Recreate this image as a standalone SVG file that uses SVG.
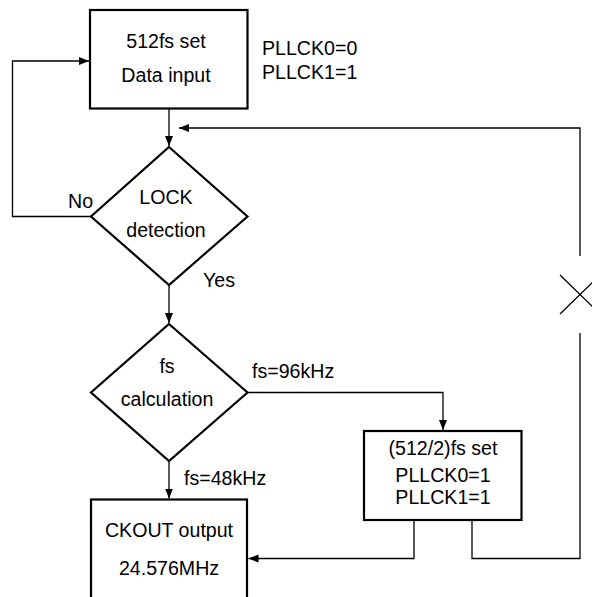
<svg xmlns="http://www.w3.org/2000/svg" width="592" height="597" viewBox="0 0 592 597">
<style>
.node{fill:#fff;stroke:#000;stroke-width:2.2}
.c{fill:none;stroke:#000;stroke-width:1.3}
text{font-family:"Liberation Sans",Arial,sans-serif;font-size:19.6px;fill:#000}
.m{text-anchor:middle}
</style>
<defs>
<marker id="ah" viewBox="0 0 10 10" refX="10" refY="5" markerWidth="10" markerHeight="10" markerUnits="userSpaceOnUse" orient="auto">
<path d="M0,1 L10,5 L0,9 Z" fill="#000"/>
</marker>
</defs>
<rect width="592" height="597" fill="#fff"/>
<g id="connectors">
<path class="c" d="M169,108.5 V146" marker-end="url(#ah)"/>
<path class="c" d="M580,256 V128 H179" marker-end="url(#ah)"/>
<path class="c" d="M91,216.5 H12.5 V61 H89" marker-end="url(#ah)"/>
<path class="c" d="M169,285 V323" marker-end="url(#ah)"/>
<path class="c" d="M247.5,392.5 H443 V430" marker-end="url(#ah)"/>
<path class="c" d="M169,461 V498.5" marker-end="url(#ah)"/>
<path class="c" d="M414,520.5 V558.5 H248.5" marker-end="url(#ah)"/>
<path class="c" d="M472,520.5 V558.5 H580 V333"/>
<path class="c" d="M560,275 L600,314 M560,314 L600,275"/>
</g>
<g id="n1">
<rect class="node" x="90" y="10" width="157.5" height="98.5"/>
<text class="m" x="166" y="48">512fs set</text>
<text class="m" x="166" y="82">Data input</text>
</g>
<g id="n1note">
<text x="262" y="55">PLLCK0=0</text>
<text x="262" y="79">PLLCK1=1</text>
</g>
<g id="d1">
<polygon class="node" points="169,147 247.5,216.5 169,285 91,216.5"/>
<text class="m" x="166" y="204">LOCK</text>
<text class="m" x="166" y="237">detection</text>
<text x="68" y="208">No</text>
<text x="203" y="287">Yes</text>
</g>
<g id="d2">
<polygon class="node" points="169,324 247.5,392.5 169,461 91,392.5"/>
<text class="m" x="167" y="373">fs</text>
<text class="m" x="167" y="406">calculation</text>
<text x="252" y="378">fs=96kHz</text>
<text x="184" y="485">fs=48kHz</text>
</g>
<g id="n3">
<rect class="node" x="364" y="431" width="157.5" height="89"/>
<text class="m" x="443" y="455">(512/2)fs set</text>
<text class="m" x="443" y="481.5">PLLCK0=1</text>
<text class="m" x="443" y="504">PLLCK1=1</text>
</g>
<g id="n4">
<rect class="node" x="91" y="499.5" width="156" height="110"/>
<text class="m" x="169" y="537">CKOUT output</text>
<text class="m" x="169" y="575">24.576MHz</text>
</g>
</svg>
